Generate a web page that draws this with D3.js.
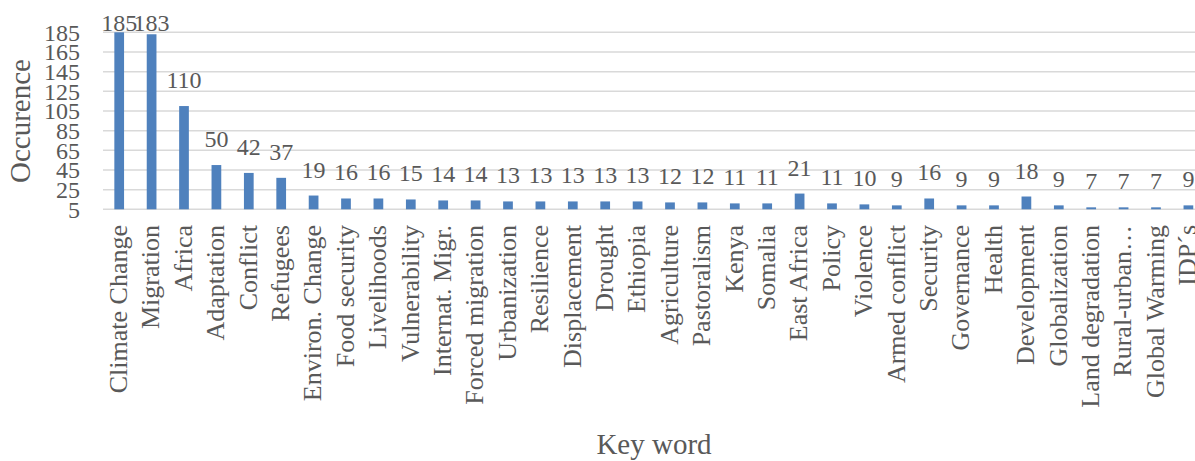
<!DOCTYPE html>
<html>
<head>
<meta charset="utf-8">
<script src="https://cdn.jsdelivr.net/npm/d3@7"></script>
<style>
  body { margin: 0; background: #fff; }
  text { font-family: "Liberation Serif", serif; fill: #595959; }
</style>
</head>
<body>
<svg id="chart" width="1195" height="461"></svg>
<script>
// key words and their occurrence counts
const keywords = ["Climate Change", "Migration", "Africa", "Adaptation", "Conflict", "Refugees",
  "Environ. Change", "Food security", "Livelihoods", "Vulnerability", "Internat. Migr.",
  "Forced migration", "Urbanization", "Resilience", "Displacement", "Drought", "Ethiopia",
  "Agriculture", "Pastoralism", "Kenya", "Somalia", "East Africa", "Policy", "Violence",
  "Armed conflict", "Security", "Governance", "Health", "Development", "Globalization",
  "Land degradation", "Rural-urban…", "Global Warming", "IDP´s"];
const counts = [185, 183, 110, 50, 42, 37, 19, 16, 16, 15, 14, 14, 13, 13, 13, 13, 13,
  12, 12, 11, 11, 21, 11, 10, 9, 16, 9, 9, 18, 9, 7, 7, 7, 9];
const yTicks = [5, 25, 45, 65, 85, 105, 125, 145, 165, 185];

const data = keywords.map((k, i) => ({ key: k, value: counts[i] }));

const svg = d3.select("#chart");
const plotLeft = 103, plotTop = 32.3, plotBottom = 209.3;

const x = d3.scaleBand().domain(keywords).range([plotLeft, plotLeft + 34 * 32.4]).paddingInner(0.7).paddingOuter(0.35);
const y = d3.scaleLinear().domain([5, 185]).range([plotBottom, plotTop]);

// gridlines
svg.append("g").selectAll("line").data(yTicks).enter().append("line")
  .attr("x1", plotLeft).attr("x2", 1195)
  .attr("y1", d => y(d)).attr("y2", d => y(d))
  .style("stroke", "#d9d9d9").style("stroke-width", "1.5px");

// y tick labels
svg.append("g").selectAll("text").data(yTicks).enter().append("text")
  .attr("x", 80).attr("y", d => y(d)).attr("dy", "0.35em")
  .attr("text-anchor", "end").style("font-size", "24px")
  .text(d => d);

// bars
svg.append("g").selectAll("rect").data(data).enter().append("rect")
  .attr("x", d => x(d.key)).attr("width", x.bandwidth())
  .attr("y", d => y(d.value)).attr("height", d => y(5) - y(d.value))
  .style("fill", "#4f81bd");

// value labels
svg.append("g").selectAll("text").data(data).enter().append("text")
  .attr("x", d => x(d.key) + x.bandwidth() / 2)
  .attr("y", d => Math.max(y(d.value) - 18, 31))
  .attr("text-anchor", "middle").style("font-size", "24px")
  .text(d => d.value);

// category labels
svg.append("g").selectAll("text").data(keywords).enter().append("text")
  .attr("transform", d => "translate(" + (x(d) + x.bandwidth() / 2) + ",225) rotate(-90)")
  .attr("dy", "0.3em").attr("text-anchor", "end").style("font-size", "26px")
  .text(d => d);

// axis titles
svg.append("text").attr("transform", "translate(30,121) rotate(-90)")
  .attr("text-anchor", "middle").style("font-size", "29px").text("Occurence");
svg.append("text").attr("x", 654).attr("y", 454)
  .attr("text-anchor", "middle").style("font-size", "29px").text("Key word");
</script>
</body>
</html>
